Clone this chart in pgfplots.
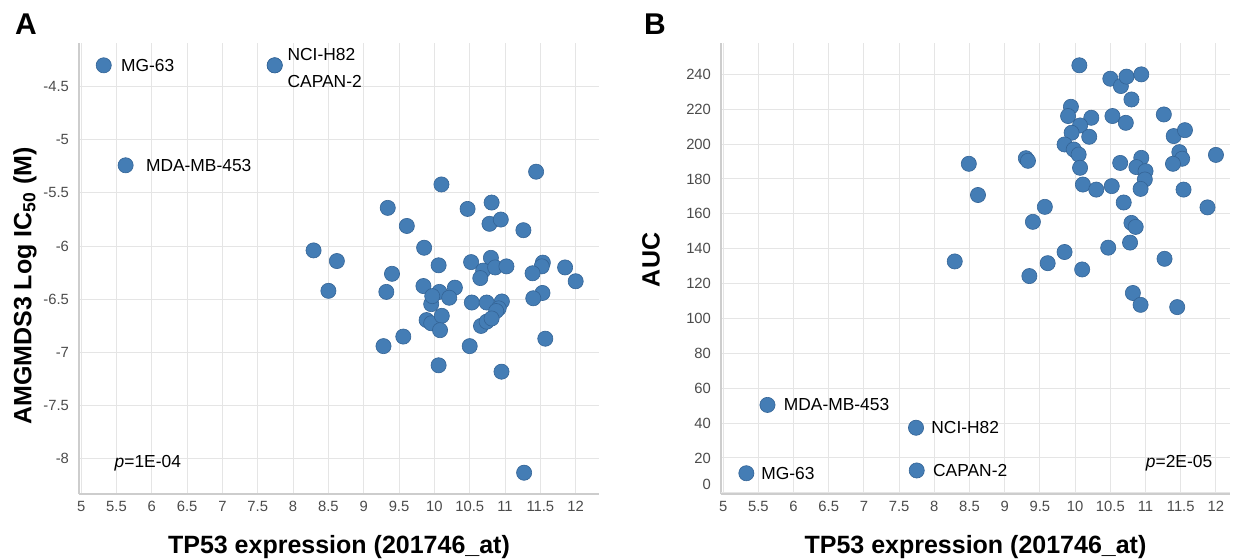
\documentclass[border=0pt]{standalone}
\usepackage{pgfplots}
\pgfplotsset{compat=1.18}
\usepackage{fontspec}
\setmainfont{Liberation Sans}
\definecolor{dot}{RGB}{68,125,181}
\definecolor{dotedge}{RGB}{52,100,150}
\definecolor{gridc}{RGB}{229,229,229}
\definecolor{axc}{RGB}{205,205,205}
\definecolor{tickc}{RGB}{75,75,75}
\tikzset{lab/.style={anchor=west, inner sep=0pt, font=\fontsize{8.7}{10}\selectfont}}
\pgfplotsset{
  panel/.style={
    scale only axis, height=225.5pt,
    axis x line*=bottom, axis y line*=left,
    axis line style={axc, line width=1pt, -},
    grid=major, major grid style={gridc, line width=0.5pt},
    tick style={draw=none},
    /pgf/number format/assume math mode=true,
    tick label style={font=\fontsize{7.4}{8}\selectfont, text=tickc},
    yticklabel style={xshift=-1.5pt},
    label style={font=\fontsize{12.5}{15}\selectfont\bfseries},
    xlabel style={at={(axis description cs:0.5,0)}, anchor=center, yshift=-26.5pt},
    xtick={5,5.5,...,12},
    clip=false,
  },
  dots/.style={only marks, mark=*, mark size=3.8pt,
    mark options={fill=dot, draw=dotedge, line width=0.3pt}},
}
\begin{document}
\begin{tikzpicture}
\begin{axis}[panel, at={(39.5pt,33pt)}, anchor=south west, width=260pt,
  xmin=4.97, xmax=12.33, ymin=-8.33, ymax=-4.09,
  ytick={-8,-7.5,...,-4.5},
  xlabel={TP53 expression (201746\_at)},
  ylabel={AMGMDS3 Log IC\textsubscript{50} (M)},
  ylabel style={at={(axis description cs:-0.104,0.461)}, anchor=center},
]
\addplot[dots] coordinates {
(5.32,-4.30) (7.74,-4.30) (7.74,-4.30) (5.63,-5.24)
(11.44,-5.30) (10.10,-5.42) (9.34,-5.64) (10.47,-5.65) (10.81,-5.59)
(10.78,-5.79) (10.94,-5.75) (9.61,-5.81) (11.26,-5.85)
(8.29,-6.04) (8.62,-6.14) (9.855,-6.015) (10.06,-6.18) (10.52,-6.15)
(10.80,-6.11) (10.69,-6.23) (10.65,-6.30) (10.86,-6.20) (11.02,-6.19)
(11.535,-6.155) (11.52,-6.19) (11.85,-6.20) (9.40,-6.26) (12.00,-6.33)
(11.39,-6.255) (8.50,-6.42) (9.32,-6.43) (9.845,-6.375) (10.07,-6.43)
(10.29,-6.39) (10.21,-6.485) (9.955,-6.545) (9.97,-6.47)
(10.53,-6.53) (10.74,-6.53) (10.955,-6.52) (10.91,-6.585) (10.875,-6.61)
(11.53,-6.44) (11.40,-6.49)
(9.89,-6.695) (9.955,-6.725) (10.105,-6.655) (10.08,-6.79)
(10.66,-6.75) (10.74,-6.71) (10.81,-6.68)
(9.56,-6.85) (9.28,-6.94) (10.50,-6.94) (11.57,-6.87)
(10.06,-7.12) (10.95,-7.18) (11.27,-8.13)
};
\node[lab, xshift=8.5pt] at (axis cs:5.32,-4.30) {MG-63};
\node[lab, xshift=6.25pt, yshift=5.35pt] at (axis cs:7.74,-4.30) {NCI-H82};
\node[lab, xshift=6.25pt, yshift=-8.15pt] at (axis cs:7.74,-4.30) {CAPAN-2};
\node[lab, xshift=10pt] at (axis cs:5.63,-5.24) {MDA-MB-453};
\node[lab] at (axis cs:5.47,-8.04) {\textit{p}=1E-04};
\end{axis}
\begin{axis}[panel, at={(360.5pt,33pt)}, anchor=south west, width=254.5pt,
  xmin=4.97, xmax=12.2, ymin=-0.7, ymax=258,
  ytick={20,40,...,240},
  extra y ticks={0},
  extra y tick style={yticklabel style={yshift=4pt}},
  xlabel={TP53 expression (201746\_at)},
  ylabel={AUC},
  ylabel style={at={(axis description cs:-0.1375,0.519)}, anchor=center},
]
\addplot[dots] coordinates {
(5.33,11.2) (7.75,12.8) (7.74,37.3) (5.63,50.4)
(10.06,245.2) (10.50,237.5) (10.65,233.3) (10.73,238.7) (10.94,240.0)
(10.80,225.6) (9.94,221.4) (9.90,216.1) (10.23,215.1) (10.53,216.1)
(10.72,212.2) (11.26,217.0) (10.07,210.7) (9.95,206.5) (10.20,204.2)
(11.40,204.6) (11.56,208.0) (9.85,199.8) (9.98,196.9) (10.05,194.0)
(10.07,186.4) (10.64,189.2) (10.94,192.1) (10.87,186.8) (11.00,184.5)
(10.99,179.7) (10.93,174.3) (11.48,195.4) (11.52,191.6) (11.39,188.7)
(10.11,176.8) (10.30,173.9) (10.52,175.9) (11.54,173.9) (10.69,166.5)
(9.57,164.0) (12.00,193.8) (8.49,188.7) (9.30,191.9) (9.33,190.4)
(8.62,170.8) (11.88,163.7) (9.40,155.4) (10.80,154.8) (10.86,152.5)
(10.47,140.6) (10.78,143.5) (9.85,138.1) (8.29,132.7) (9.61,131.7)
(11.27,134.2) (10.10,128.1) (9.35,124.3) (10.82,114.6) (10.93,107.8)
(11.45,106.5)
};
\node[lab, xshift=7.3pt] at (axis cs:5.33,11.2) {MG-63};
\node[lab, xshift=8pt] at (axis cs:7.75,12.8) {CAPAN-2};
\node[lab, xshift=7.5pt] at (axis cs:7.74,37.3) {NCI-H82};
\node[lab, xshift=8pt] at (axis cs:5.63,50.4) {MDA-MB-453};
\node[lab] at (axis cs:11.0,17.1) {\textit{p}=2E-05};
\end{axis}
\node[font=\fontsize{15}{18}\selectfont\bfseries] at (13pt,268pt) {A};
\node[font=\fontsize{15}{18}\selectfont\bfseries] at (327.5pt,268pt) {B};
\pgfresetboundingbox
\path[use as bounding box] (0,0) rectangle (617.5pt,280pt);
\end{tikzpicture}
\end{document}
